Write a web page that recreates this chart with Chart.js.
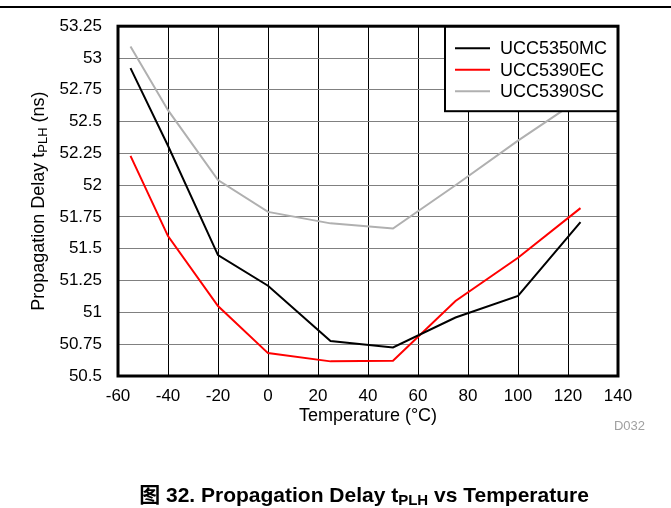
<!DOCTYPE html>
<html>
<head>
<meta charset="utf-8">
<script src="https://cdn.jsdelivr.net/npm/chart.js@4/dist/chart.umd.min.js"></script>
<style>
  html, body { margin: 0; padding: 0; background: #fff; }
  #wrap { width: 671px; height: 508px; position: relative; }
</style>
</head>
<body>
<div id="wrap"><canvas id="c" width="671" height="508"></canvas></div>
<script>
// temperature points (°C)
const temps = [-55, -40, -20, 0, 25, 50, 75, 100, 125];
const ucc5350mc = [52.92, 52.31, 51.45, 51.21, 50.775, 50.725, 50.96, 51.13, 51.71];
const ucc5390ec = [52.23, 51.60, 51.05, 50.68, 50.615, 50.62, 51.09, 51.43, 51.82];
const ucc5390sc = [53.09, 52.59, 52.04, 51.79, 51.70, 51.66, 52.00, 52.35, 52.68];

const seriesNames = ['UCC5350MC', 'UCC5390EC', 'UCC5390SC'];
const seriesColors = ['#000000', '#ff0000', '#b0b0b0'];

const xTickValues = [-60, -40, -20, 0, 20, 40, 60, 80, 100, 120, 140];
const yTickValues = [50.5, 50.75, 51, 51.25, 51.5, 51.75, 52, 52.25, 52.5, 52.75, 53, 53.25];

const FONT = "'Liberation Sans', Arial, 'Noto Sans CJK SC', sans-serif";

function toPoints(vals) {
  return temps.map((t, i) => ({ x: t, y: vals[i] }));
}

const extras = {
  id: 'extras',
  afterDatasetsDraw(chart) {
    const ctx = chart.ctx;
    const a = chart.chartArea;
    ctx.save();

    // legend box inside plot, top-right
    const lx = 445, ly = a.top, lw = a.right - 445, lh = 85;
    ctx.fillStyle = '#fff';
    ctx.fillRect(lx, ly, lw, lh);
    ctx.strokeStyle = '#000';
    ctx.lineWidth = 2;
    ctx.strokeRect(lx, ly, lw, lh);
    ctx.font = '18px ' + FONT;
    ctx.textBaseline = 'middle';
    ctx.textAlign = 'left';
    seriesNames.forEach((name, i) => {
      const y = ly + 22 + i * 21.5;
      ctx.strokeStyle = seriesColors[i];
      ctx.lineWidth = 2;
      ctx.beginPath();
      ctx.moveTo(455, y);
      ctx.lineTo(490, y);
      ctx.stroke();
      ctx.fillStyle = '#000';
      ctx.fillText(name, 500, y + 1);
    });

    // heavy plot frame
    ctx.strokeStyle = '#000';
    ctx.lineWidth = 3;
    ctx.strokeRect(a.left, a.top, a.right - a.left, a.bottom - a.top);
    ctx.restore();
  },
  afterDraw(chart) {
    const ctx = chart.ctx;
    const a = chart.chartArea;
    ctx.save();

    // page rule at top
    ctx.fillStyle = '#000';
    ctx.fillRect(0, 6, 671, 2);

    // x title
    ctx.font = '18px ' + FONT;
    ctx.textAlign = 'center';
    ctx.textBaseline = 'middle';
    ctx.fillText('Temperature (°C)', (a.left + a.right) / 2, 416);

    // y title with subscript, rotated
    ctx.translate(39, (a.top + a.bottom) / 2);
    ctx.rotate(-Math.PI / 2);
    drawSub(ctx, 'Propagation Delay t', 'PLH', ' (ns)', '18px ' + FONT, '13px ' + FONT, 0, 0, 4);
    ctx.setTransform(1, 0, 0, 1, 0, 0);

    // figure id
    ctx.fillStyle = '#a0a0a0';
    ctx.font = '13px ' + FONT;
    ctx.textAlign = 'right';
    ctx.fillText('D032', 645, 426);

    // caption
    ctx.fillStyle = '#000';
    drawSub(ctx, '图 32. Propagation Delay t', 'PLH', ' vs Temperature',
      'bold 21px ' + FONT, 'bold 15px ' + FONT, 364, 496, 5);
    ctx.restore();
  }
};

function drawSub(ctx, pre, sub, post, font, subFont, cx, cy, drop) {
  ctx.textAlign = 'left';
  ctx.textBaseline = 'middle';
  ctx.font = font;
  const w1 = ctx.measureText(pre).width;
  const w3 = ctx.measureText(post).width;
  ctx.font = subFont;
  const w2 = ctx.measureText(sub).width;
  let x = cx - (w1 + w2 + w3) / 2;
  ctx.font = font;
  ctx.fillText(pre, x, cy);
  x += w1;
  ctx.font = subFont;
  ctx.fillText(sub, x, cy + drop);
  x += w2;
  ctx.font = font;
  ctx.fillText(post, x, cy);
}

new Chart(document.getElementById('c'), {
  type: 'line',
  data: {
    datasets: seriesNames.map((name, i) => ({
      label: name,
      data: toPoints([ucc5350mc, ucc5390ec, ucc5390sc][i]),
      borderColor: seriesColors[i],
      borderWidth: 2,
      pointRadius: 0,
      tension: 0,
      fill: false,
    })),
  },
  options: {
    responsive: false,
    animation: false,
    events: [],
    layout: { padding: { left: 0, right: 53, top: 22, bottom: 0 } },
    plugins: { legend: { display: false }, tooltip: { enabled: false } },
    scales: {
      x: {
        type: 'linear',
        min: -60,
        max: 140,
        afterBuildTicks: (axis) => { axis.ticks = xTickValues.map((v) => ({ value: v })); },
        afterFit: (axis) => { axis.height = 132; },
        grid: { color: '#000', lineWidth: 1, drawTicks: false },
        border: { display: false },
        ticks: { color: '#000', font: { family: FONT, size: 17 }, padding: 10, maxRotation: 0, callback: (v) => String(v) },
      },
      y: {
        type: 'linear',
        min: 50.5,
        max: 53.25,
        afterBuildTicks: (axis) => { axis.ticks = yTickValues.map((v) => ({ value: v })); },
        afterFit: (axis) => { axis.width = 118; },
        grid: { color: '#808080', lineWidth: 1, drawTicks: false },
        border: { display: false },
        ticks: { color: '#000', font: { family: FONT, size: 17 }, padding: 16, callback: (v) => String(v) },
      },
    },
  },
  plugins: [extras],
});
</script>
</body>
</html>
